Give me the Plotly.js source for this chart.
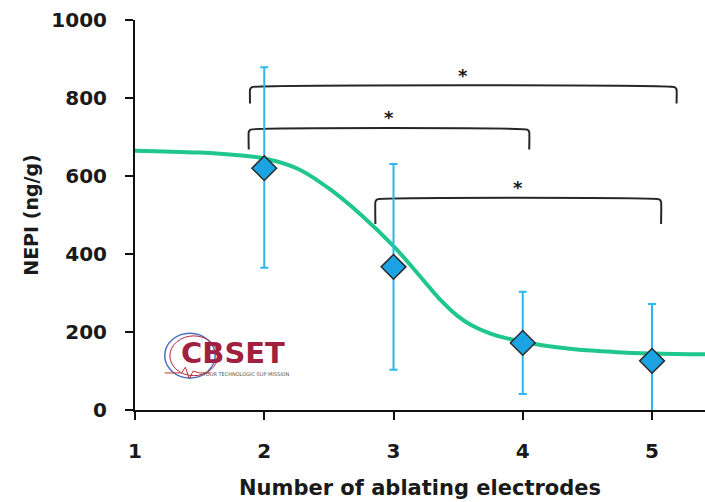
<!DOCTYPE html>
<html>
<head>
<meta charset="utf-8">
<script src="https://cdn.plot.ly/plotly-3.0.1.min.js"></script>
<style>html,body{margin:0;padding:0;background:#fff;}#chart{width:705px;height:502px;}</style>
</head>
<body>
<div id="chart"></div>
<script>
// Measured data
const electrodes = [2, 3, 4, 5];
const nepiMean = [620, 367, 172, 126];
const errPlus = [259, 264, 131, 146];
const errMinus = [255, 264, 131, 146];

// Fitted curve
const fitX = [1.0, 1.5, 1.8, 2.0, 2.25, 2.5, 2.75, 3.0, 3.2, 3.35, 3.5, 3.6, 3.75, 3.9, 4.15, 4.4, 4.7, 5.0, 5.41];
const fitY = [665, 660, 653, 645, 620, 568, 500, 420, 345, 287, 240, 218, 196, 182, 166, 156, 149, 145, 143];

// Significance brackets
const bracketStart = [1.89, 1.88, 2.86];
const bracketEnd = [5.19, 4.05, 5.07];
const bracketTop = [828, 719, 540];
const bracketLeg = [786, 668, 477];
const bracketLabel = ['*', '*', '*'];

const xTicks = [1, 2, 3, 4, 5];
const yTicks = [0, 200, 400, 600, 800, 1000];

const FONT = 'DejaVu Sans, sans-serif';
const TXT = '#1a1a1a';

const traces = [];
traces.push({
  x: fitX, y: fitY, mode: 'lines', type: 'scatter',
  line: {color: '#1fc78e', width: 4, shape: 'spline', smoothing: 1.2},
  hoverinfo: 'skip', showlegend: false, cliponaxis: true
});
for (let i = 0; i < bracketStart.length; i++) {
  const a = bracketStart[i], b = bracketEnd[i], t = bracketTop[i], l = bracketLeg[i];
  traces.push({
    x: [a, a, a + 0.015, b - 0.015, b, b],
    y: [l, t - 6, t, t, t - 6, l],
    mode: 'lines', type: 'scatter',
    line: {color: '#262626', width: 2, shape: 'spline', smoothing: 0.3},
    hoverinfo: 'skip', showlegend: false
  });
}
traces.push({
  x: electrodes, y: nepiMean, mode: 'markers', type: 'scatter',
  marker: {symbol: 'diamond', size: 19, color: '#1ba3e3', line: {color: '#2b2b2b', width: 1.5}},
  error_y: {type: 'data', symmetric: false, array: errPlus, arrayminus: errMinus,
            color: '#2cb6f2', thickness: 2, width: 4},
  showlegend: false, cliponaxis: true
});

const annotations = [];
for (let i = 0; i < bracketStart.length; i++) {
  annotations.push({
    x: (bracketStart[i] + bracketEnd[i]) / 2, y: bracketTop[i] + 30,
    xref: 'x', yref: 'y', text: bracketLabel[i], showarrow: false,
    font: {family: FONT, size: 18, color: TXT, weight: 'bold'}
  });
}
// logo
annotations.push({
  x: 1.34, y: 145, xref: 'x', yref: 'y', xanchor: 'left', yanchor: 'middle',
  text: 'CBSET', showarrow: false,
  font: {family: 'DejaVu Sans, sans-serif', size: 29, color: '#a0213f', weight: 'bold'}
});
annotations.push({
  x: 1.5, y: 92, xref: 'x', yref: 'y', xanchor: 'left', yanchor: 'middle',
  text: 'YOUR TECHNOLOGIC SUP MISSION', showarrow: false,
  font: {family: 'DejaVu Sans, sans-serif', size: 5, color: '#555'}
});

const shapes = [
  {type: 'circle', xref: 'x', yref: 'y', x0: 1.23, x1: 1.62, y0: 82, y1: 197,
   line: {color: '#4a6fc0', width: 1.5}},
  {type: 'circle', xref: 'x', yref: 'y', x0: 1.27, x1: 1.64, y0: 88, y1: 190,
   line: {color: '#b0283f', width: 1}},
  {type: 'path', xref: 'x', yref: 'y',
   path: 'M 1.23 95 L 1.36 95 L 1.39 110 L 1.42 80 L 1.45 100 L 1.5 95 L 1.58 95',
   line: {color: '#c0392b', width: 1}}
];

const layout = {
  width: 705, height: 502,
  margin: {l: 135, r: 0, t: 20, b: 92},
  paper_bgcolor: '#fff', plot_bgcolor: '#fff',
  showlegend: false,
  xaxis: {
    range: [1, 5.41], tickvals: xTicks, ticktext: xTicks.map(String),
    showgrid: false, zeroline: false, showline: true, linecolor: '#111', linewidth: 2,
    ticks: 'outside', ticklen: 8, tickwidth: 2, tickcolor: '#111',
    ticklabelstandoff: 14,
    tickfont: {family: FONT, size: 20, color: TXT, weight: 'bold'},
    title: {text: 'Number of ablating electrodes', standoff: 18,
            font: {family: FONT, size: 21, color: TXT, weight: 'bold'}}
  },
  yaxis: {
    range: [0, 1000], tickvals: yTicks, ticktext: yTicks.map(String),
    showgrid: false, zeroline: false, showline: true, linecolor: '#111', linewidth: 2,
    ticks: 'outside', ticklen: 8, tickwidth: 2, tickcolor: '#111',
    ticklabelstandoff: 14,
    tickfont: {family: FONT, size: 20, color: TXT, weight: 'bold'},
    title: {text: 'NEPI (ng/g)', standoff: 8,
            font: {family: FONT, size: 19, color: TXT, weight: 'bold'}}
  },
  annotations: annotations,
  shapes: shapes
};

Plotly.newPlot('chart', traces, layout, {displayModeBar: false, staticPlot: true});
</script>
</body>
</html>
